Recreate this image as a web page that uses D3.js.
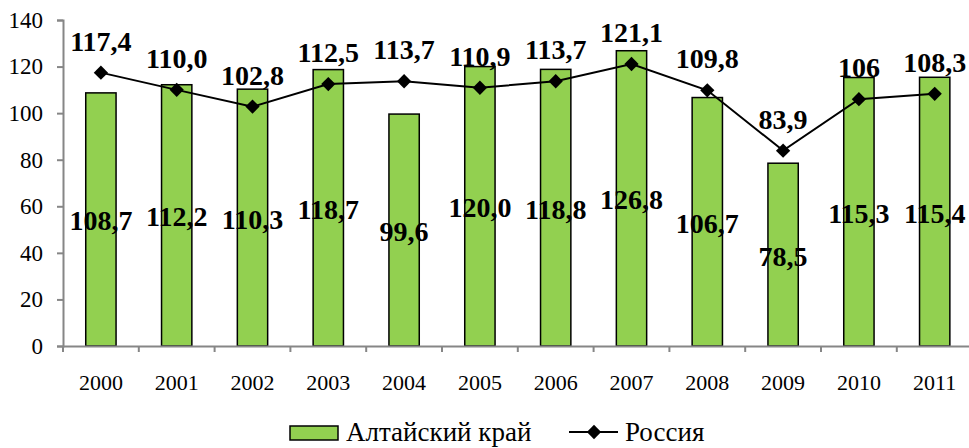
<!DOCTYPE html>
<html>
<head>
<meta charset="utf-8">
<script src="https://cdn.jsdelivr.net/npm/d3@7"></script>
<style>
  body { margin: 0; background: #fff; }
  svg { display: block; }
  svg text { font-family: "Liberation Serif", "Times New Roman", "DejaVu Serif", serif; }
</style>
</head>
<body>
<svg id="chart" width="969" height="448"></svg>
<script>
const years  = ['2000', '2001', '2002', '2003', '2004', '2005', '2006', '2007', '2008', '2009', '2010', '2011'];
const altai  = [108.7, 112.2, 110.3, 118.7, 99.6, 120.0, 118.8, 126.8, 106.7, 78.5, 115.3, 115.4];
const russia = [117.4, 110.0, 102.8, 112.5, 113.7, 110.9, 113.7, 121.1, 109.8, 83.9, 106, 108.3];
// labels as printed on the chart (2010 shows "106" without decimals)
const russiaLabels = ['117,4', '110,0', '102,8', '112,5', '113,7', '110,9', '113,7', '121,1', '109,8', '83,9', '106', '108,3'];
const yTicks = [0, 20, 40, 60, 80, 100, 120, 140];

const fmt = v => d3.format('.1f')(v).replace('.', ',');
const serif = '"Liberation Serif", "Times New Roman", "DejaVu Serif", serif';

const svg = d3.select('#chart');
const m = { left: 63, top: 20, bottom: 346 };
const bandW = 75.8;

const x = d3.scaleBand().domain(years).range([m.left, m.left + bandW * years.length]).paddingInner(0.6).paddingOuter(0.3);
const y = d3.scaleLinear().domain([0, 140]).range([m.bottom, m.top]);
const xc = d => x(d) + x.bandwidth() / 2;

const axisColor = '#868686';

// bars
svg.append('g').selectAll('rect')
  .data(altai)
  .join('rect')
  .attr('x', (d, i) => x(years[i]))
  .attr('width', x.bandwidth())
  .attr('y', d => y(d))
  .attr('height', d => y(0) - y(d))
  .attr('fill', '#92d050')
  .attr('stroke', '#000')
  .attr('stroke-width', 1.5);

// axes
const yAxis = svg.append('g')
  .attr('transform', `translate(${m.left},0)`)
  .call(d3.axisLeft(y).tickValues(yTicks).tickSize(6).tickPadding(14));
const xAxis = svg.append('g')
  .attr('transform', `translate(0,${m.bottom})`)
  .call(d3.axisBottom(x).tickSize(0).tickPadding(28));

// x ticks sit between categories
xAxis.selectAll('.between')
  .data(years)
  .join('line')
  .attr('class', 'between')
  .attr('x1', d => x(d) - x.step() * x.paddingOuter())
  .attr('x2', d => x(d) - x.step() * x.paddingOuter())
  .attr('y1', 0)
  .attr('y2', 6);

for (const ax of [yAxis, xAxis]) {
  ax.attr('font-family', serif);
  ax.select('.domain').attr('stroke', axisColor).attr('stroke-width', 2);
  ax.selectAll('line').attr('stroke', axisColor).attr('stroke-width', 2);
  ax.selectAll('text').attr('fill', '#000').style('font-family', serif).attr('font-size', 23);
}
xAxis.selectAll('text').attr('font-size', 22);

// bar labels
svg.append('g').selectAll('text')
  .data(altai)
  .join('text')
  .attr('x', (d, i) => xc(years[i]))
  .attr('y', d => (y(d) + y(0)) / 2 + 11)
  .attr('text-anchor', 'middle')
  .style('font-family', serif)
  .attr('font-size', 28)
  .attr('font-weight', 'bold')
  .text(d => fmt(d));

// russia line
const line = d3.line().x((d, i) => xc(years[i])).y(d => y(d));
svg.append('path')
  .datum(russia)
  .attr('d', line)
  .attr('fill', 'none')
  .attr('stroke', '#000')
  .attr('stroke-width', 2);

const diamond = d3.symbol().type(d3.symbolDiamond2).size(130);
svg.append('g').selectAll('path')
  .data(russia)
  .join('path')
  .attr('transform', (d, i) => `translate(${xc(years[i])},${y(d)})`)
  .attr('d', diamond);

svg.append('g').selectAll('text')
  .data(russia)
  .join('text')
  .attr('x', (d, i) => xc(years[i]))
  .attr('y', d => y(d) - 22)
  .attr('text-anchor', 'middle')
  .style('font-family', serif)
  .attr('font-size', 28)
  .attr('font-weight', 'bold')
  .text((d, i) => russiaLabels[i]);

// legend
const lg = svg.append('g');
lg.append('rect')
  .attr('x', 290).attr('y', 426).attr('width', 48).attr('height', 14)
  .attr('fill', '#92d050').attr('stroke', '#000').attr('stroke-width', 1.5);
lg.append('text').attr('x', 346).attr('y', 441).attr('font-size', 27).style('font-family', serif).text('Алтайский край');
lg.append('line')
  .attr('x1', 569).attr('x2', 618).attr('y1', 432).attr('y2', 432)
  .attr('stroke', '#000').attr('stroke-width', 2);
lg.append('path').attr('transform', 'translate(594,432)').attr('d', diamond);
lg.append('text').attr('x', 625).attr('y', 441).attr('font-size', 27).style('font-family', serif).text('Россия');
</script>
</body>
</html>
